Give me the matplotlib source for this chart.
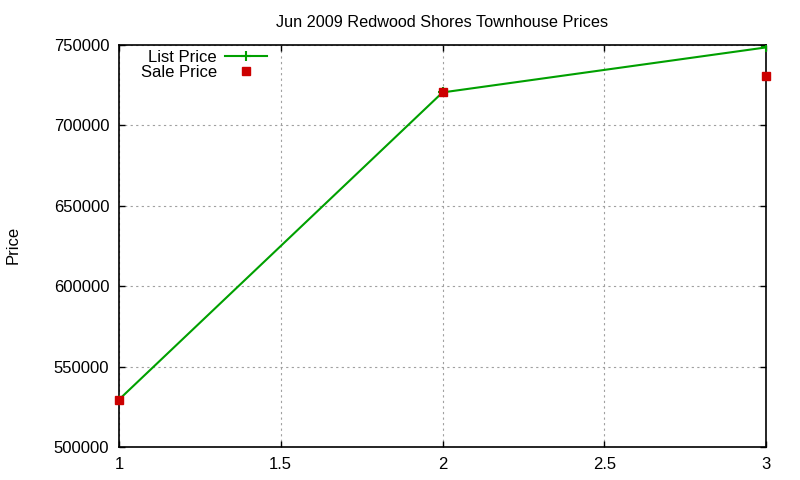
import matplotlib
matplotlib.use("Agg")
import matplotlib.pyplot as plt

plt.rcParams['font.family'] = ['Liberation Sans', 'DejaVu Sans']

# data
x = [1, 2, 3]
list_price = [529500, 720500, 748500]
sale_price = [529500, 720500, 730500]

fig = plt.figure(figsize=(8, 4.8), dpi=100)
ax = fig.add_axes([0.14875, 0.06875, 0.80875, 0.8375])

ax.plot(x, list_price, color='#00a000', lw=1.5, marker='+', ms=7, mew=1.5,
        label='List Price', zorder=3)
ax.plot(x, sale_price, ls='none', marker='s', color='#cc0000', ms=6,
        label='Sale Price', zorder=4, clip_on=False)

ax.set_xlim(1, 3)
ax.set_ylim(500000, 750000)
ax.set_xticks([1, 1.5, 2, 2.5, 3])
ax.set_xticklabels(['1', '1.5', '2', '2.5', '3'])
ax.set_yticks(range(500000, 750001, 50000))
ax.set_yticklabels([str(v) for v in range(500000, 750001, 50000)])

ax.grid(True, color='#a0a0a0', ls=(0, (2, 3)), lw=0.8)
ax.tick_params(direction='in', length=4, width=1, top=True, right=True,
               labelsize=12, pad=7)
for s in ax.spines.values():
    s.set_linewidth(1.2)

ax.set_title('Jun 2009 Redwood Shores Townhouse Prices', fontsize=11.7, pad=13)
fig.text(0.007, 0.49, 'Price', rotation=90, fontsize=12, va='center')

leg = ax.legend(loc='upper right', bbox_to_anchor=(0.2287, 0.987), frameon=False,
                markerfirst=False, fontsize=12, handlelength=2.5,
                labelspacing=0.0, borderaxespad=0, borderpad=0,
                handletextpad=0.5)
for t in leg.get_texts():
    t.set_ha('right')

fig.savefig('out.png')
